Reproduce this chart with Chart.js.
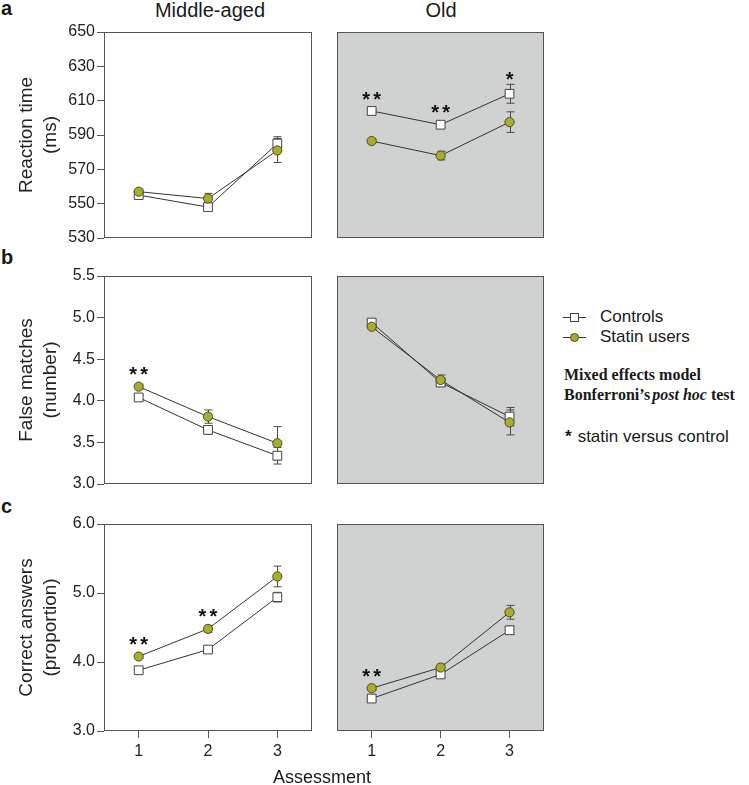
<!DOCTYPE html>
<html>
<head>
<meta charset="utf-8">
<script src="https://cdn.jsdelivr.net/npm/chart.js@4.4.1/dist/chart.umd.min.js"></script>
<style>
  html, body { margin: 0; padding: 0; background: #fff; }
  #fig { position: relative; width: 749px; height: 785px; overflow: hidden;
         font-family: "Liberation Sans", Arial, sans-serif; color: #1a1a1a; }
  #fig canvas { position: absolute; }
  .t { position: absolute; white-space: nowrap; }
  .letter { font-weight: bold; font-size: 20px; line-height: 20px; left: 1px; }
  .head { font-size: 20px; line-height: 20px; top: 0; width: 200px; text-align: center; }
  .lg { position: absolute; left: 563px; height: 20px; line-height: 20px; font-size: 17px; white-space: nowrap; }
  .ic { display: inline-block; position: relative; width: 23px; height: 20px; vertical-align: top; margin-right: 14px; }
  .ic .ln { position: absolute; left: 0; right: 0; top: 10px; height: 1px; background: #333; }
  .ic .sq { position: absolute; left: 7px; top: 6px; width: 9px; height: 9px; box-sizing: border-box;
            background: #fff; border: 1px solid #444; }
  .ic .ci { position: absolute; left: 7px; top: 6px; width: 9px; height: 9px; box-sizing: border-box;
            background: #aaad2b; border: 1px solid #4d4d20; border-radius: 50%; }
  .note { left: 564px; font: bold 16px "Liberation Serif", "Times New Roman", serif; line-height: 20px; }
</style>
</head>
<body>
<div id="fig">
  <div class="t letter" style="top:-2px">a</div>
  <div class="t letter" style="top:247px">b</div>
  <div class="t letter" style="top:496px">c</div>
  <div class="t head" style="left:110px">Middle-aged</div>
  <div class="t head" style="left:341px">Old</div>

  <canvas id="aMid" width="320" height="230" style="left:0;top:20px"></canvas>
  <canvas id="aOld" width="222" height="230" style="left:330px;top:20px"></canvas>
  <canvas id="bMid" width="320" height="232" style="left:0;top:264px"></canvas>
  <canvas id="bOld" width="222" height="232" style="left:330px;top:264px"></canvas>
  <canvas id="cMid" width="320" height="262" style="left:0;top:512px"></canvas>
  <canvas id="cOld" width="222" height="262" style="left:330px;top:512px"></canvas>

  <div class="lg" style="top:307px"><span class="ic"><i class="ln"></i><i class="sq"></i></span>Controls</div>
  <div class="lg" style="top:327px"><span class="ic"><i class="ln"></i><i class="ci"></i></span>Statin users</div>
  <div class="t note" style="top:365px">Mixed effects model</div>
  <div class="t note" style="top:385px">Bonferroni’s<i style="margin-left:2px">post hoc</i> test</div>
  <div class="t" style="left:565px;top:427px;font-size:17px;line-height:20px"><b style="margin-right:6px">*</b>statin versus control</div>

  <div class="t" style="left:222px;top:768px;width:200px;text-align:center;font-size:18px;line-height:18px">Assessment</div>
</div>

<script>
const assessments = ['1', '2', '3'];

// a: reaction time (ms)
const rtMidControls = [555, 548, 585];
const rtMidControlsErr = [1.5, 2, 4];
const rtMidStatin = [557, 553, 581];
const rtMidStatinErr = [1.5, 3, 7];
const rtMidSig = ['', '', ''];
const rtOldControls = [604, 596, 614];
const rtOldControlsErr = [1, 1.5, 5.5];
const rtOldStatin = [586.5, 578, 597.5];
const rtOldStatinErr = [1, 2.5, 6];
const rtOldSig = ['**', '**', '*'];

// b: false matches (number)
const fmMidControls = [4.04, 3.65, 3.34];
const fmMidControlsErr = [0.03, 0.05, 0.1];
const fmMidStatin = [4.17, 3.81, 3.49];
const fmMidStatinErr = [0.03, 0.08, 0.2];
const fmMidSig = ['**', '', ''];
const fmOldControls = [4.94, 4.22, 3.81];
const fmOldControlsErr = [0.03, 0.05, 0.11];
const fmOldStatin = [4.89, 4.25, 3.74];
const fmOldStatinErr = [0.03, 0.06, 0.15];
const fmOldSig = ['', '', ''];

// c: correct answers (proportion)
const caMidControls = [3.88, 4.18, 4.94];
const caMidControlsErr = [0.03, 0.04, 0.07];
const caMidStatin = [4.08, 4.48, 5.24];
const caMidStatinErr = [0.03, 0.05, 0.15];
const caMidSig = ['**', '**', ''];
const caOldControls = [3.47, 3.82, 4.46];
const caOldControlsErr = [0.03, 0.04, 0.06];
const caOldStatin = [3.62, 3.92, 4.72];
const caOldStatinErr = [0.03, 0.05, 0.1];
const caOldSig = ['**', '', ''];

const GREEN = '#aaad2b';
const FRAME = '#555';

// background, frame, error bars and significance stars
const panelPlugin = {
  id: 'panel',
  beforeDraw(chart, args, opts) {
    const { ctx, chartArea: a } = chart;
    if (opts.bg) {
      ctx.save();
      ctx.fillStyle = opts.bg;
      ctx.fillRect(a.left, a.top, a.right - a.left, a.bottom - a.top);
      ctx.restore();
    }
  },
  beforeDatasetsDraw(chart) {
    const { ctx, chartArea: a, scales: { x, y } } = chart;
    ctx.save();
    ctx.strokeStyle = FRAME;
    ctx.lineWidth = 1;
    ctx.strokeRect(Math.round(a.left) + 0.5, Math.round(a.top) + 0.5,
      Math.round(a.right - a.left) - 1, Math.round(a.bottom - a.top) - 1);
    ctx.strokeStyle = '#4a4a4a';
    chart.data.datasets.forEach(ds => {
      ds.data.forEach((v, i) => {
        const px = Math.round(x.getPixelForValue(i)) + 0.5;
        const y1 = y.getPixelForValue(v + ds.err[i]);
        const y2 = y.getPixelForValue(v - ds.err[i]);
        ctx.beginPath();
        ctx.moveTo(px, y1); ctx.lineTo(px, y2);
        ctx.moveTo(px - 4, y1); ctx.lineTo(px + 4, y1);
        ctx.moveTo(px - 4, y2); ctx.lineTo(px + 4, y2);
        ctx.stroke();
      });
    });
    ctx.restore();
  },
  afterDatasetsDraw(chart, args, opts) {
    const { ctx, scales: { x, y } } = chart;
    if (!opts.sig) return;
    ctx.save();
    ctx.fillStyle = '#111';
    ctx.font = 'bold 20px "Liberation Sans", Arial, sans-serif';
    ctx.textAlign = 'center';
    ctx.textBaseline = 'alphabetic';
    opts.sig.forEach((s, i) => {
      if (!s) return;
      let yc = Infinity;
      chart.data.datasets.forEach(ds => {
        const py = y.getPixelForValue(ds.data[i]);
        const pe = y.getPixelForValue(ds.data[i] + ds.err[i]);
        yc = Math.min(yc, py - 17, pe - 10);
      });
      const px = x.getPixelForValue(i);
      const n = s.length;
      for (let k = 0; k < n; k++) {
        ctx.fillText('*', px + (k - (n - 1) / 2) * 11, yc + 11.6);
      }
    });
    ctx.restore();
  }
};

function panel(id, o) {
  const left = o.col === 0;
  new Chart(document.getElementById(id), {
    type: 'line',
    data: {
      labels: assessments,
      datasets: [
        {
          label: 'Controls', data: o.ctrl, err: o.ctrlErr, order: 1,
          borderColor: '#333', borderWidth: 1,
          pointStyle: 'rect', pointRadius: 6.2, pointBorderWidth: 1,
          pointBackgroundColor: '#fff', pointBorderColor: '#444'
        },
        {
          label: 'Statin users', data: o.stat, err: o.statErr, order: 0,
          borderColor: '#333', borderWidth: 1,
          pointStyle: 'circle', pointRadius: 4.6, pointBorderWidth: 1,
          pointBackgroundColor: GREEN, pointBorderColor: '#4d4d20'
        }
      ]
    },
    options: {
      responsive: false,
      animation: false,
      devicePixelRatio: 1,
      layout: { padding: { left: left ? 0 : 7, right: 8, top: 12, bottom: o.xAxis ? 0 : 12 } },
      plugins: {
        legend: { display: false },
        tooltip: { enabled: false },
        panel: { bg: left ? null : '#d0d1d1', sig: o.sig }
      },
      scales: {
        x: {
          type: 'category',
          offset: true,
          display: !!o.xAxis,
          border: { display: false },
          grid: { display: true, drawOnChartArea: false, tickLength: 7, color: FRAME },
          ticks: { color: '#222', padding: 4, font: { size: 16, family: '"Liberation Sans", Arial, sans-serif' } },
          afterFit: s => { if (o.xAxis) s.height = 43; }
        },
        y: {
          display: left,
          min: o.min,
          max: o.max,
          border: { display: false },
          grid: { display: true, drawOnChartArea: false, tickLength: 7, color: FRAME },
          ticks: {
            stepSize: o.step,
            color: '#222',
            padding: 2,
            font: { size: 16, family: '"Liberation Sans", Arial, sans-serif' },
            callback: v => Number(v).toFixed(o.dec)
          },
          title: {
            display: true,
            text: o.title,
            color: '#222',
            padding: { top: 14, bottom: 0 },
            font: { size: 19, lineHeight: 1.3, family: '"Liberation Sans", Arial, sans-serif' }
          },
          afterFit: s => { if (left) s.width = 104; }
        }
      }
    },
    plugins: [panelPlugin]
  });
}

const rtAxis = { min: 530, max: 650, step: 20, dec: 0, title: ['Reaction time', '(ms)'] };
const fmAxis = { min: 3.0, max: 5.5, step: 0.5, dec: 1, title: ['False matches', '(number)'] };
const caAxis = { min: 3.0, max: 6.0, step: 1.0, dec: 1, title: ['Correct answers', '(proportion)'] };

panel('aMid', { ...rtAxis, col: 0, ctrl: rtMidControls, ctrlErr: rtMidControlsErr, stat: rtMidStatin, statErr: rtMidStatinErr, sig: rtMidSig });
panel('aOld', { ...rtAxis, col: 1, ctrl: rtOldControls, ctrlErr: rtOldControlsErr, stat: rtOldStatin, statErr: rtOldStatinErr, sig: rtOldSig });
panel('bMid', { ...fmAxis, col: 0, ctrl: fmMidControls, ctrlErr: fmMidControlsErr, stat: fmMidStatin, statErr: fmMidStatinErr, sig: fmMidSig });
panel('bOld', { ...fmAxis, col: 1, ctrl: fmOldControls, ctrlErr: fmOldControlsErr, stat: fmOldStatin, statErr: fmOldStatinErr, sig: fmOldSig });
panel('cMid', { ...caAxis, col: 0, xAxis: true, ctrl: caMidControls, ctrlErr: caMidControlsErr, stat: caMidStatin, statErr: caMidStatinErr, sig: caMidSig });
panel('cOld', { ...caAxis, col: 1, xAxis: true, ctrl: caOldControls, ctrlErr: caOldControlsErr, stat: caOldStatin, statErr: caOldStatinErr, sig: caOldSig });
</script>
</body>
</html>
